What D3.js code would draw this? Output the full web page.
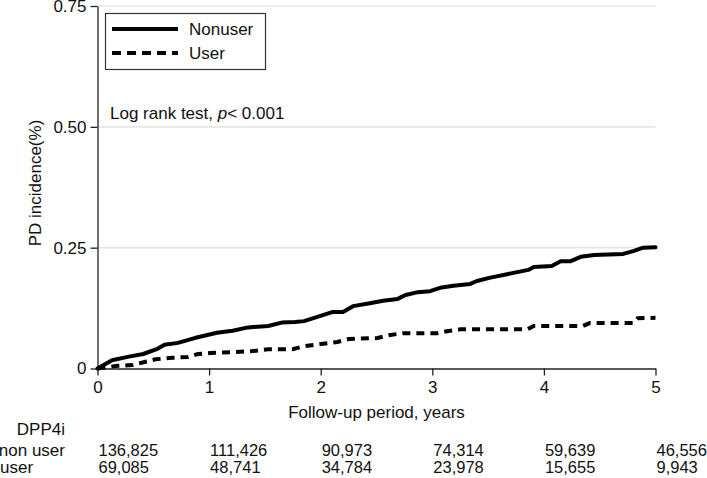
<!DOCTYPE html>
<html>
<head>
<meta charset="utf-8">
<script src="https://cdn.jsdelivr.net/npm/d3@7"></script>
<style>
  html, body { margin: 0; padding: 0; background: #fff; }
  svg { display: block; font-family: "Liberation Sans", Arial, Helvetica, sans-serif; }
</style>
</head>
<body>
<svg id="chart" width="707" height="478"></svg>
<script>
// ---- Data ----
const seriesNames = ["Nonuser", "User"];
const nonuserTime = [0, 0.13, 0.27, 0.41, 0.53, 0.60, 0.72, 0.87, 1.07, 1.21, 1.35, 1.53, 1.65, 1.77, 1.85, 1.97, 2.11, 2.20, 2.29, 2.44, 2.56, 2.69, 2.76, 2.87, 2.98, 3.07, 3.19, 3.34, 3.40, 3.52, 3.67, 3.86, 3.91, 4.07, 4.15, 4.24, 4.33, 4.45, 4.71, 4.80, 4.89, 5.00];
const nonuserValue = [0, 0.017, 0.024, 0.030, 0.040, 0.049, 0.053, 0.063, 0.074, 0.078, 0.085, 0.088, 0.095, 0.096, 0.098, 0.107, 0.117, 0.117, 0.129, 0.135, 0.140, 0.144, 0.152, 0.158, 0.160, 0.167, 0.171, 0.175, 0.181, 0.188, 0.195, 0.204, 0.210, 0.212, 0.222, 0.222, 0.231, 0.235, 0.237, 0.243, 0.250, 0.251];
const userTime = [0, 0.16, 0.31, 0.43, 0.52, 0.67, 0.81, 0.90, 1.01, 1.24, 1.39, 1.53, 1.75, 1.85, 2.02, 2.15, 2.25, 2.51, 2.61, 2.74, 3.04, 3.13, 3.25, 3.85, 3.91, 4.35, 4.41, 4.80, 4.84, 5.00];
const userValue = [0, 0.005, 0.007, 0.014, 0.019, 0.022, 0.024, 0.030, 0.032, 0.034, 0.036, 0.040, 0.040, 0.046, 0.051, 0.055, 0.061, 0.063, 0.069, 0.073, 0.073, 0.077, 0.081, 0.081, 0.088, 0.088, 0.094, 0.094, 0.104, 0.105];
const xTicks = [0, 1, 2, 3, 4, 5];
const yTicks = [0, 0.25, 0.50, 0.75];
const yTickLabels = ["0", "0.25", "0.50", "0.75"];
const riskGroupTitle = "DPP4i";
const riskRowLabels = ["non user", "user"];
const riskNonuser = ["136,825", "111,426", "90,973", "74,314", "59,639", "46,556"];
const riskUser = ["69,085", "48,741", "34,784", "23,978", "15,655", "9,943"];
const annotation = "Log rank test, ";

// ---- Layout ----
const svg = d3.select("#chart");
const x = d3.scaleLinear().domain([0, 5]).range([97.5, 655.5]);
const y = d3.scaleLinear().domain([0, 0.75]).range([368.5, 6]);
const FS = 17;

// gridlines
svg.append("g").selectAll("line").data(yTicks.filter(d => d > 0)).join("line")
  .attr("x1", x(0)).attr("x2", x(5))
  .attr("y1", d => y(d)).attr("y2", d => y(d))
  .attr("stroke", "#e6e6e6").attr("stroke-width", 1.6);

// y axis
const yAxis = d3.axisLeft(y).tickValues(yTicks).tickFormat((d, i) => yTickLabels[i]).tickSize(7).tickPadding(4).tickSizeOuter(0);
const gy = svg.append("g").attr("transform", `translate(${x(0)},0)`).call(yAxis);
gy.select(".domain").attr("stroke", "#222").attr("stroke-width", 1.3);
gy.selectAll(".tick line").attr("stroke", "#222").attr("stroke-width", 1.3);
gy.selectAll(".tick text").attr("font-size", FS).attr("fill", "#111").attr("font-family", "Liberation Sans, Arial, sans-serif");

// x axis
const xAxis = d3.axisBottom(x).tickValues(xTicks).tickFormat(d3.format("d")).tickSize(7).tickPadding(5).tickSizeOuter(0);
const gx = svg.append("g").attr("transform", `translate(0,${y(0)})`).call(xAxis);
gx.select(".domain").attr("stroke", "#222").attr("stroke-width", 1.3);
gx.selectAll(".tick line").attr("stroke", "#222").attr("stroke-width", 1.3);
gx.selectAll(".tick text").attr("font-size", FS).attr("fill", "#111").attr("font-family", "Liberation Sans, Arial, sans-serif");

// axis titles
svg.append("text").attr("x", (x(0) + x(5)) / 2).attr("y", 418).attr("text-anchor", "middle")
  .attr("font-size", FS).attr("fill", "#111").text("Follow-up period, years");
svg.append("text").attr("transform", "translate(41,183) rotate(-90)").attr("text-anchor", "middle")
  .attr("font-size", FS).attr("fill", "#111").text("PD incidence(%)");

// curves
const line = d3.line().x(d => x(d[0])).y(d => y(d[1])).curve(d3.curveLinear);
const nonuserData = nonuserTime.map((t, i) => [t, nonuserValue[i]]);
const userData = userTime.map((t, i) => [t, userValue[i]]);
svg.append("path").datum(nonuserData).attr("d", line)
  .attr("fill", "none").attr("stroke", "#000").attr("stroke-width", 4).attr("stroke-linejoin", "round").attr("stroke-linecap", "round");
svg.append("path").datum(userData).attr("d", line)
  .attr("fill", "none").attr("stroke", "#000").attr("stroke-width", 4).attr("stroke-dasharray", "8,6");

// legend
const lg = svg.append("g");
lg.append("rect").attr("x", 105.5).attr("y", 13.5).attr("width", 160).attr("height", 56)
  .attr("fill", "#fff").attr("stroke", "#333").attr("stroke-width", 1.2);
const legendY = [29, 53];
seriesNames.forEach((name, i) => {
  lg.append("line").attr("x1", 112).attr("x2", 178).attr("y1", legendY[i]).attr("y2", legendY[i])
    .attr("stroke", "#000").attr("stroke-width", 4)
    .attr("stroke-dasharray", i === 1 ? "9,6" : null);
  lg.append("text").attr("x", 189).attr("y", legendY[i] + 6).attr("font-size", FS).attr("fill", "#111").text(name);
});

// annotation
const ann = svg.append("text").attr("x", 110).attr("y", 119).attr("font-size", FS).attr("fill", "#111");
ann.append("tspan").text(annotation);
ann.append("tspan").attr("font-style", "italic").text("p");
ann.append("tspan").text("< 0.001");

// risk table
svg.append("text").attr("x", 65).attr("y", 435).attr("text-anchor", "end").attr("font-size", FS).attr("fill", "#111").text(riskGroupTitle);
svg.append("text").attr("x", 65).attr("y", 456).attr("text-anchor", "end").attr("font-size", FS).attr("fill", "#111").text(riskRowLabels[0]);
svg.append("text").attr("x", 0).attr("y", 473).attr("text-anchor", "start").attr("font-size", FS).attr("fill", "#111").text(riskRowLabels[1]);
[riskNonuser, riskUser].forEach((row, r) => {
  svg.append("g").selectAll("text").data(row).join("text")
    .attr("x", (d, i) => x(xTicks[i]) + 1).attr("y", r === 0 ? 456 : 473)
    .attr("font-size", FS - 0.5).attr("fill", "#111").text(d => d);
});
</script>
</body>
</html>
